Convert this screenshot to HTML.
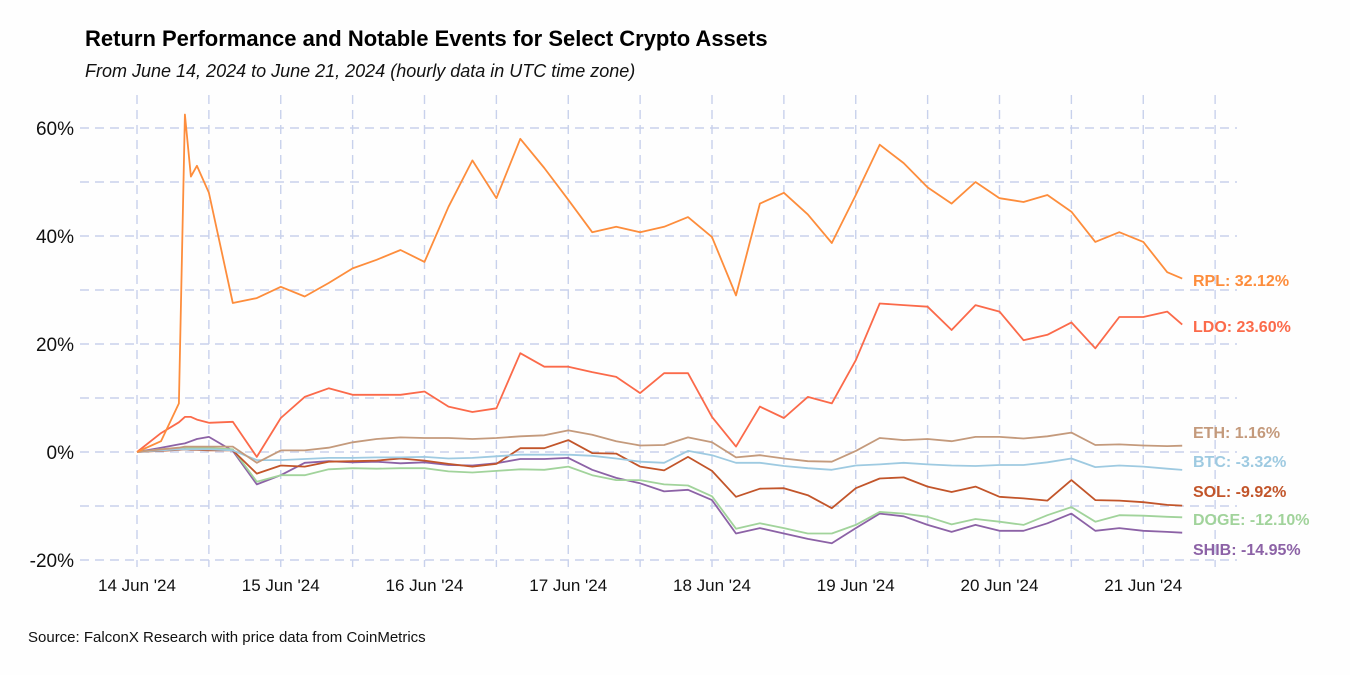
<!DOCTYPE html>
<html><head><meta charset="utf-8"><style>
body{margin:0;background:#fff;}
svg text{font-family:"Liberation Sans",Arial,sans-serif;}
</style></head><body>
<svg id="chart" width="1350" height="675" xmlns="http://www.w3.org/2000/svg">
<rect width="1350" height="675" fill="#fefefe"/>
<text x="85" y="46" font-size="22" font-weight="bold" fill="#000">Return Performance and Notable Events for Select Crypto Assets</text>
<text x="85" y="77" font-size="18" font-style="italic" fill="#111">From June 14, 2024 to June 21, 2024 (hourly data in UTC time zone)</text>
<g id="grid"></g>
<g id="yaxis"></g>
<g id="xaxis"></g>
<g id="series"></g>
<g id="labels"></g>
<text x="28" y="642" font-size="15" fill="#111">Source: FalconX Research with price data from CoinMetrics</text>
</svg>
<script>
const hours=[0,4,7,8,9,10,12,16,20,24,28,32,36,40,44,48,52,56,60,64,68,72,76,80,84,88,92,96,100,104,108,112,116,120,124,128,132,136,140,144,148,152,156,160,164,168,172,174.5];
const rpl=[0,2,9,62.5,51,53,48,27.6,28.5,30.6,28.8,31.3,34,35.6,37.4,35.2,45.4,54,47,58,52.6,46.7,40.7,41.7,40.7,41.7,43.5,39.8,29,46,48,44,38.7,47.6,56.9,53.5,49,46,50,47,46.3,47.6,44.5,38.9,40.7,38.9,33.3,32.12];
const ldo=[0,3.5,5.5,6.5,6.5,6,5.4,5.6,-0.9,6.3,10.2,11.8,10.6,10.6,10.6,11.2,8.4,7.4,8.1,18.3,15.8,15.8,14.8,13.9,10.9,14.6,14.6,6.5,1,8.4,6.3,10.2,9,17,27.5,27.2,26.9,22.6,27.2,26,20.7,21.7,24,19.2,25,25,26,23.6];
const eth=[0,0.5,0.8,1,1,1,1,1,-2,0.3,0.3,0.8,1.8,2.4,2.7,2.6,2.6,2.4,2.6,2.9,3.1,4,3.2,2,1.2,1.3,2.7,1.8,-1,-0.6,-1.2,-1.7,-1.8,0.2,2.6,2.2,2.4,2,2.8,2.8,2.5,2.9,3.6,1.3,1.4,1.2,1.1,1.16];
const btc=[0,0.3,0.5,0.5,0.5,0.5,0.5,0.3,-1.5,-1.5,-1.3,-1.1,-1.1,-1,-1,-0.9,-1.2,-1.1,-0.8,-0.5,-0.5,-0.5,-0.7,-1.2,-1.8,-2,0.2,-0.6,-2,-2,-2.6,-3,-3.3,-2.5,-2.3,-2,-2.3,-2.5,-2.6,-2.4,-2.4,-1.9,-1.2,-2.8,-2.5,-2.7,-3.1,-3.32];
const sol=[0,0.2,0.4,0.5,0.4,0.4,0.3,0.3,-4,-2.5,-2.7,-1.8,-1.7,-1.6,-1.2,-1.6,-2.2,-2.7,-2.2,0.7,0.7,2.2,-0.2,-0.3,-2.7,-3.4,-0.9,-3.5,-8.3,-6.8,-6.7,-8,-10.4,-6.7,-4.9,-4.7,-6.4,-7.4,-6.4,-8.3,-8.6,-9,-5.2,-8.9,-9,-9.3,-9.8,-9.92];
const doge=[0,0.5,0.7,0.8,0.8,0.7,0.7,0.5,-5.5,-4.3,-4.3,-3.2,-3,-3.1,-3,-3,-3.6,-3.8,-3.5,-3.2,-3.3,-2.7,-4.3,-5.2,-5.2,-6,-6.2,-8.2,-14.2,-13.2,-14.1,-15.1,-15.1,-13.5,-11.1,-11.4,-12,-13.4,-12.4,-12.9,-13.5,-11.7,-10.2,-12.9,-11.7,-11.8,-12,-12.1];
const shib=[0,0.8,1.4,1.6,2,2.4,2.8,0.2,-6,-4.3,-2,-1.7,-1.9,-1.8,-2.1,-1.9,-2.4,-2.5,-2.1,-1.3,-1.3,-1.1,-3.3,-4.8,-5.8,-7.3,-7,-8.9,-15.1,-14.1,-15.1,-16.1,-16.9,-14.1,-11.4,-11.9,-13.5,-14.8,-13.5,-14.6,-14.6,-13.2,-11.4,-14.6,-14.1,-14.6,-14.8,-14.95];
const seriesNames=["RPL","LDO","ETH","BTC","SOL","DOGE","SHIB"];
const seriesColors=["#fd8d3c","#fb6a4a","#c49a7c","#9ecae1","#c2552a","#a1d39b","#8c62a6"];
const endLabels=["RPL: 32.12%","LDO: 23.60%","ETH: 1.16%","BTC: -3.32%","SOL: -9.92%","DOGE: -12.10%","SHIB: -14.95%"];
const labelY=[280,326,432,461,491,519,549];
const yTicks=[-20,0,20,40,60];
const yMinor=[-10,10,30,50];
const xTickLabels=["14 Jun '24","15 Jun '24","16 Jun '24","17 Jun '24","18 Jun '24","19 Jun '24","20 Jun '24","21 Jun '24"];

const NS="http://www.w3.org/2000/svg";
function x(h){return 137+h*143.75/24;}
function y(v){return 452-v*5.4;}
function mk(tag,attrs,parent){const e=document.createElementNS(NS,tag);for(const k in attrs)e.setAttribute(k,attrs[k]);parent.appendChild(e);return e;}
const grid=document.getElementById('grid');
const gridStyle={stroke:"#c8d1ec","stroke-width":1.4,"stroke-dasharray":"9 6",fill:"none"};
yTicks.concat(yMinor).forEach(v=>{
  const l=mk('line',Object.assign({x1:80,x2:1237,y1:y(v),y2:y(v)},gridStyle),grid);
  
  
});
for(let d=0;d<=7.5;d+=0.5){
  const l=mk('line',Object.assign({x1:x(d*24),x2:x(d*24),y1:95,y2:567},gridStyle),grid);
  
  
}
const ya=document.getElementById('yaxis');
yTicks.forEach(v=>{
  const t=mk('text',{x:74,y:y(v)+7,"text-anchor":"end","font-size":19,fill:"#111"},ya);
  t.textContent=v+"%";
  
  
});
const xa=document.getElementById('xaxis');
xTickLabels.forEach((s,i)=>{
  const t=mk('text',{x:x(i*24),y:591,"text-anchor":"middle","font-size":17,fill:"#111"},xa);
  t.textContent=s;
  
  
});
const data=[rpl,ldo,eth,btc,sol,doge,shib];
const sg=document.getElementById('series');
const lg=document.getElementById('labels');
for(let i=data.length-1;i>=0;i--){
  const d=data[i].map((v,j)=>(j?'L':'M')+x(hours[j]).toFixed(1)+','+y(v).toFixed(1)).join('');
  const p=mk('path',{d:d,stroke:seriesColors[i],"stroke-width":1.8,fill:"none","stroke-linejoin":"round"},sg);
  
  
}
endLabels.forEach((s,i)=>{
  const t=mk('text',{x:1193,y:labelY[i]+6,"font-size":16,"font-weight":"bold",fill:seriesColors[i]},lg);
  t.textContent=s;
  
  
});
</script>
</body></html>
